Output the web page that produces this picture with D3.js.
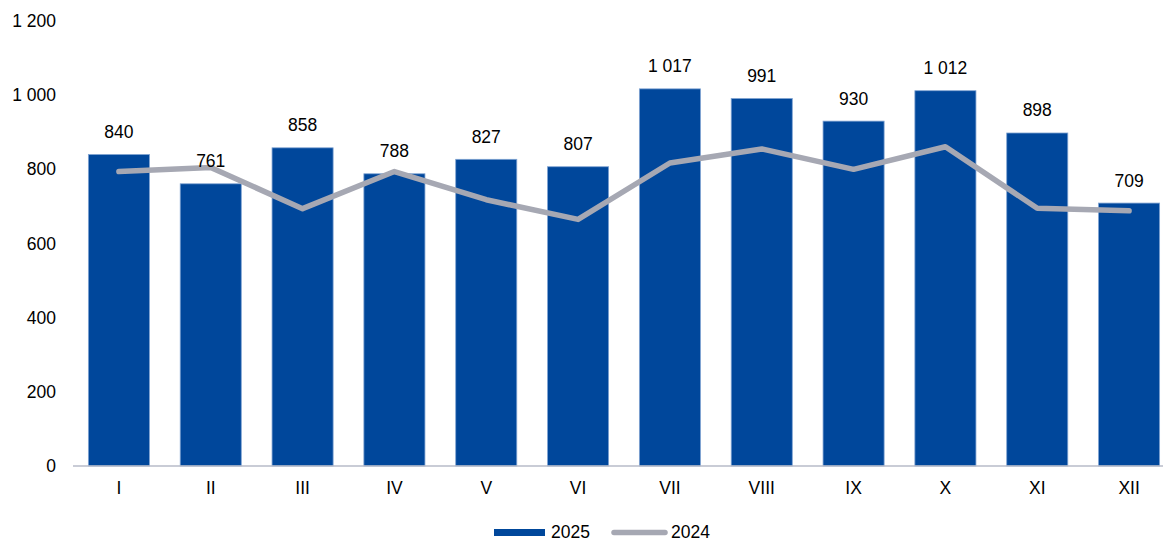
<!DOCTYPE html>
<html>
<head>
<meta charset="utf-8">
<script src="https://cdn.jsdelivr.net/npm/d3@7"></script>
<style>
  html, body { margin: 0; padding: 0; background: #fff; }
  svg { display: block; font-family: "Liberation Sans", Arial, sans-serif; }
</style>
</head>
<body>
<svg id="chart" width="1163" height="541"></svg>
<script>
const categories = ["I", "II", "III", "IV", "V", "VI", "VII", "VIII", "IX", "X", "XI", "XII"];
const values2025 = [840, 761, 858, 788, 827, 807, 1017, 991, 930, 1012, 898, 709];
const values2024 = [794, 805, 694, 794, 718, 665, 817, 855, 800, 861, 695, 688];
const yTicks = [0, 200, 400, 600, 800, 1000, 1200];
const seriesNames = ["2025", "2024"];

const W = 1163, H = 541;
const svg = d3.select("#chart");
const fmt = v => d3.format(",")(v).replace(/,/g, " ");

const x = d3.scaleBand().domain(categories).range([73, 1175])
  .paddingInner(0.335).paddingOuter(0.1675);
const y = d3.scaleLinear().domain([0, 1200]).range([466, 21]);

const barColor = "#00479B";
const lineColor = "#A6A8B3";
const fontSize = "17.5px";

// Y axis labels
svg.append("g").selectAll("text").data(yTicks).join("text")
  .attr("x", 56).attr("y", d => y(d)).attr("dy", "0.35em")
  .attr("text-anchor", "end").attr("font-size", fontSize).attr("fill", "#000")
  .text(fmt);

// Bars
svg.append("g").selectAll("rect").data(values2025).join("rect")
  .attr("x", (d, i) => x(categories[i]))
  .attr("y", d => y(d))
  .attr("width", x.bandwidth())
  .attr("height", d => y(0) - y(d))
  .attr("fill", barColor)
  .attr("stroke", "#7FA3D2").attr("stroke-width", 0.8);

// Axis line
svg.append("line").attr("x1", 73).attr("x2", W).attr("y1", y(0)).attr("y2", y(0))
  .attr("stroke", "#B7BBC9").attr("stroke-width", 1.5);

// X labels
svg.append("g").selectAll("text").data(categories).join("text")
  .attr("x", d => x(d) + x.bandwidth() / 2).attr("y", 494)
  .attr("text-anchor", "middle").attr("font-size", fontSize).attr("fill", "#000")
  .text(d => d);

// Line 2024
const line = d3.line()
  .x((d, i) => x(categories[i]) + x.bandwidth() / 2)
  .y(d => y(d));
svg.append("path").datum(values2024)
  .attr("d", line).attr("fill", "none")
  .attr("stroke", lineColor).attr("stroke-width", 5.5)
  .attr("stroke-linecap", "round").attr("stroke-linejoin", "round");

// Data labels
svg.append("g").selectAll("text").data(values2025).join("text")
  .attr("x", (d, i) => x(categories[i]) + x.bandwidth() / 2)
  .attr("y", d => y(d) - 16.5)
  .attr("text-anchor", "middle").attr("font-size", fontSize).attr("fill", "#000")
  .text(fmt);

// Legend
const lg = svg.append("g");
lg.append("rect").attr("x", 494).attr("y", 529).attr("width", 51).attr("height", 7)
  .attr("fill", barColor);
lg.append("text").attr("x", 551).attr("y", 537.5).attr("font-size", fontSize)
  .attr("fill", "#000").text(seriesNames[0]);
lg.append("line").attr("x1", 614).attr("x2", 665).attr("y1", 532.5).attr("y2", 532.5)
  .attr("stroke", lineColor).attr("stroke-width", 5.5).attr("stroke-linecap", "round");
lg.append("text").attr("x", 671).attr("y", 537.5).attr("font-size", fontSize)
  .attr("fill", "#000").text(seriesNames[1]);
</script>
</body>
</html>
